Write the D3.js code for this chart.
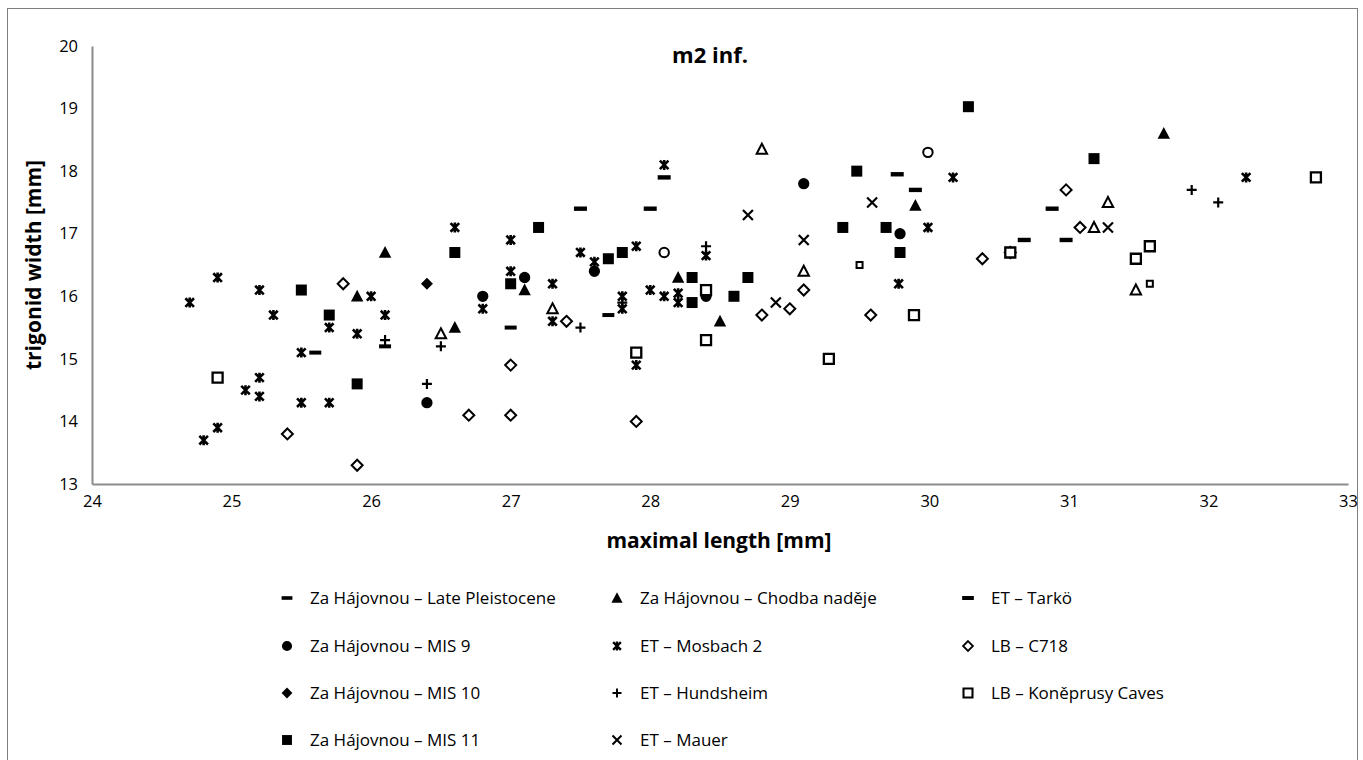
<!DOCTYPE html>
<html>
<head>
<meta charset="utf-8">
<script src="https://cdn.jsdelivr.net/npm/d3@7"></script>
<style>
  html, body { margin: 0; padding: 0; background: #fff; }
  svg { display: block; font-family: "Open Sans", "DejaVu Sans", sans-serif; }
</style>
</head>
<body>
<svg id="chart" width="1363" height="760"></svg>
<script>
// ---- data (x = maximal length [mm], y = trigonid width [mm]) ----
const xTicks = [24, 25, 26, 27, 28, 29, 30, 31, 32, 33];
const yTicks = [13, 14, 15, 16, 17, 18, 19, 20];

const latePleistocene = [[25.6,15.1],[26.1,15.2],[27.0,15.5],[27.7,15.7]];
const chodba = [[25.9,16.0],[26.1,16.7],[26.6,15.5],[27.1,16.1],[28.2,16.3],[28.5,15.6],[29.9,17.45],[31.68,18.6]];
const tarko = [[27.5,17.4],[28.0,17.4],[28.1,17.9],[29.77,17.95],[29.9,17.7],[30.88,17.4],[30.68,16.9],[30.98,16.9]];
const mis9 = [[26.4,14.3],[26.8,16.0],[27.1,16.3],[27.6,16.4],[28.4,16.0],[29.1,17.8],[29.79,17.0]];
const mosbach2 = [[24.7,15.9],[24.8,13.7],[24.9,13.9],[24.9,16.3],[25.1,14.5],[25.2,16.1],[25.2,14.7],[25.2,14.4],
  [25.3,15.7],[25.5,15.1],[25.5,14.3],[25.7,15.5],[25.7,14.3],[25.9,15.4],[26.0,16.0],[26.1,15.7],[26.6,17.1],
  [26.8,15.8],[27.0,16.9],[27.0,16.4],[27.3,16.2],[27.3,15.6],[27.5,16.7],[27.6,16.55],[27.8,16.0],[27.8,15.8],
  [27.9,16.8],[27.9,14.9],[28.0,16.1],[28.1,16.0],[28.1,18.1],[28.2,16.05],[28.2,15.9],[28.4,16.65],[29.78,16.2],
  [29.99,17.1],[30.17,17.9],[32.27,17.9]];
const c718 = [[25.4,13.8],[25.8,16.2],[25.9,13.3],[26.7,14.1],[27.0,14.9],[27.0,14.1],[27.4,15.6],[27.9,14.0],
  [28.8,15.7],[29.0,15.8],[29.1,16.1],[29.58,15.7],[30.38,16.6],[30.58,16.7],[30.98,17.7],[31.08,17.1]];
const mis10 = [[26.4,16.2]];
const hundsheim = [[26.1,15.3],[26.4,14.6],[26.5,15.2],[27.5,15.5],[27.8,15.9],[28.4,16.8],[31.88,17.7],[32.07,17.5]];
const koneprusy = [[24.9,14.7],[27.9,15.1],[28.4,16.1],[28.4,15.3],[29.28,15.0],[29.89,15.7],[30.58,16.7],[31.48,16.6],[31.58,16.8],[32.77,17.9]];
const mis11 = [[25.5,16.1],[25.7,15.7],[25.9,14.6],[26.6,16.7],[27.0,16.2],[27.2,17.1],[27.7,16.6],[27.8,16.7],
  [28.3,16.3],[28.3,15.9],[28.6,16.0],[28.7,16.3],[29.38,17.1],[29.48,18.0],[29.69,17.1],[29.79,16.7],[30.28,19.03],[31.18,18.2]];
const mauer = [[28.7,17.3],[28.9,15.9],[29.1,16.9],[29.59,17.5],[31.28,17.1]];
// series drawn in the plot without a legend entry
const smallSquares = [[29.5,16.5],[31.58,16.2]];
const openTriangles = [[26.5,15.4],[27.3,15.8],[28.8,18.35],[29.1,16.4],[31.18,17.1],[31.28,17.5],[31.48,16.1]];
const openCircles = [[28.1,16.7],[29.99,18.3]];

// ---- marker shapes ----
const markers = {
  dashThin: { d: "M-6,-2H6V2H-6Z", fill: "#000", stroke: "none" },
  dash:     { d: "M-6.5,-2.2H6.5V2.2H-6.5Z", fill: "#000", stroke: "none" },
  triFill:  { d: "M0,-6.5L6.2,5.2H-6.2Z", fill: "#000", stroke: "none" },
  triOpen:  { d: "M0,-5.5L5.2,4.5H-5.2Z", fill: "#fff", stroke: "#000", sw: 2 },
  circFill: { d: d3.symbol(d3.symbolCircle, 100)(), fill: "#000", stroke: "none" },
  circOpen: { d: d3.symbol(d3.symbolCircle, 70)(), fill: "#fff", stroke: "#000", sw: 2 },
  star:     { d: "M-4.3,-4.3L4.3,4.3M4.3,-4.3L-4.3,4.3M0,-5V5", fill: "none", stroke: "#000", sw: 2.6 },
  diaOpen:  { d: "M0,-5.5L5.5,0L0,5.5L-5.5,0Z", fill: "#fff", stroke: "#000", sw: 2 },
  diaFill:  { d: "M0,-6L6,0L0,6L-6,0Z", fill: "#000", stroke: "none" },
  plus:     { d: "M-5,0H5M0,-5V5", fill: "none", stroke: "#000", sw: 2.2 },
  sqOpen:   { d: "M-5,-5H5V5H-5Z", fill: "#fff", stroke: "#000", sw: 2.3 },
  sqSmall:  { d: "M-3,-3H3V3H-3Z", fill: "#fff", stroke: "#000", sw: 2 },
  sqFill:   { d: "M-5.5,-5.5H5.5V5.5H-5.5Z", fill: "#000", stroke: "none" },
  cross:    { d: "M-5,-5L5,5M5,-5L-5,5", fill: "none", stroke: "#000", sw: 2.2 }
};

const series = [
  { name: "Za Hájovnou – Late Pleistocene", data: latePleistocene, m: "dashThin", col: 0, row: 0 },
  { name: "Za Hájovnou – Chodba naděje", data: chodba, m: "triFill", col: 1, row: 0 },
  { name: "ET – Tarkö", data: tarko, m: "dash", col: 2, row: 0 },
  { name: "Za Hájovnou – MIS 9", data: mis9, m: "circFill", col: 0, row: 1 },
  { name: "ET – Mosbach 2", data: mosbach2, m: "star", col: 1, row: 1 },
  { name: "LB – C718", data: c718, m: "diaOpen", col: 2, row: 1 },
  { name: "Za Hájovnou – MIS 10", data: mis10, m: "diaFill", col: 0, row: 2 },
  { name: "ET – Hundsheim", data: hundsheim, m: "plus", col: 1, row: 2 },
  { name: "LB – Koněprusy Caves", data: koneprusy, m: "sqOpen", col: 2, row: 2 },
  { name: "Za Hájovnou – MIS 11", data: mis11, m: "sqFill", col: 0, row: 3 },
  { name: "ET – Mauer", data: mauer, m: "cross", col: 1, row: 3 },
  { name: null, data: smallSquares, m: "sqSmall" },
  { name: null, data: openTriangles, m: "triOpen" },
  { name: null, data: openCircles, m: "circOpen" }
];

// ---- layout ----
const svg = d3.select("#chart");
const L = 92, R = 1348, T = 46, B = 484;
const x = d3.scaleLinear().domain([24, 33]).range([L, R]);
const y = d3.scaleLinear().domain([13, 20]).range([B, T]);

// outer frame
svg.append("rect").attr("x", 7.5).attr("y", 8.5).attr("width", 1350).attr("height", 760)
  .attr("fill", "none").attr("stroke", "#7f7f7f").attr("stroke-width", 1);

// axes
const axisColor = "#8c8c8c";
const xAxis = svg.append("g").attr("transform", `translate(0,${B})`)
  .call(d3.axisBottom(x).tickValues(xTicks).tickSize(0).tickPadding(11).tickFormat(d3.format("d")));
const yAxis = svg.append("g").attr("transform", `translate(${L},0)`)
  .call(d3.axisLeft(y).tickValues(yTicks).tickSize(0).tickPadding(8).tickFormat(d3.format("d")));
[xAxis, yAxis].forEach(g => {
  g.select(".domain").attr("stroke", axisColor).attr("stroke-width", 2);
  g.selectAll("text").attr("fill", "#000").style("font-size", "16.5px")
    .style("font-family", "'Open Sans', sans-serif");
});
yAxis.selectAll("text").attr("dx", "-6");

// titles
svg.append("text").attr("x", 710).attr("y", 63).attr("text-anchor", "middle")
  .style("font-weight", "bold").style("font-size", "22px").text("m2 inf.");
svg.append("text").attr("x", 719).attr("y", 548).attr("text-anchor", "middle")
  .style("font-weight", "bold").style("font-size", "21px").text("maximal length [mm]");
svg.append("text").attr("transform", "translate(41,265) rotate(-90)").attr("text-anchor", "middle")
  .style("font-weight", "bold").style("font-size", "21px").text("trigonid width [mm]");

// points
const plot = svg.append("g");
series.forEach(s => {
  const mk = markers[s.m];
  plot.append("g").selectAll("path").data(s.data).join("path")
    .attr("d", mk.d)
    .attr("transform", d => `translate(${x(d[0])},${y(d[1])})`)
    .attr("fill", mk.fill).attr("stroke", mk.stroke)
    .attr("stroke-width", mk.sw || 0);
});

// legend
const colX = [287, 617, 968];
const rowY = [598, 646, 693, 740];
const leg = svg.append("g");
series.filter(s => s.name).forEach(s => {
  const mk = markers[s.m];
  const g = leg.append("g").attr("transform", `translate(${colX[s.col]},${rowY[s.row]})`);
  g.append("path").attr("d", mk.d).attr("transform", "scale(0.9)")
    .attr("fill", mk.fill).attr("stroke", mk.stroke).attr("stroke-width", mk.sw || 0);
  g.append("text").attr("x", 23).attr("y", 0).attr("dy", "0.35em")
    .style("font-size", "17px").text(s.name);
});
</script>
</body>
</html>
